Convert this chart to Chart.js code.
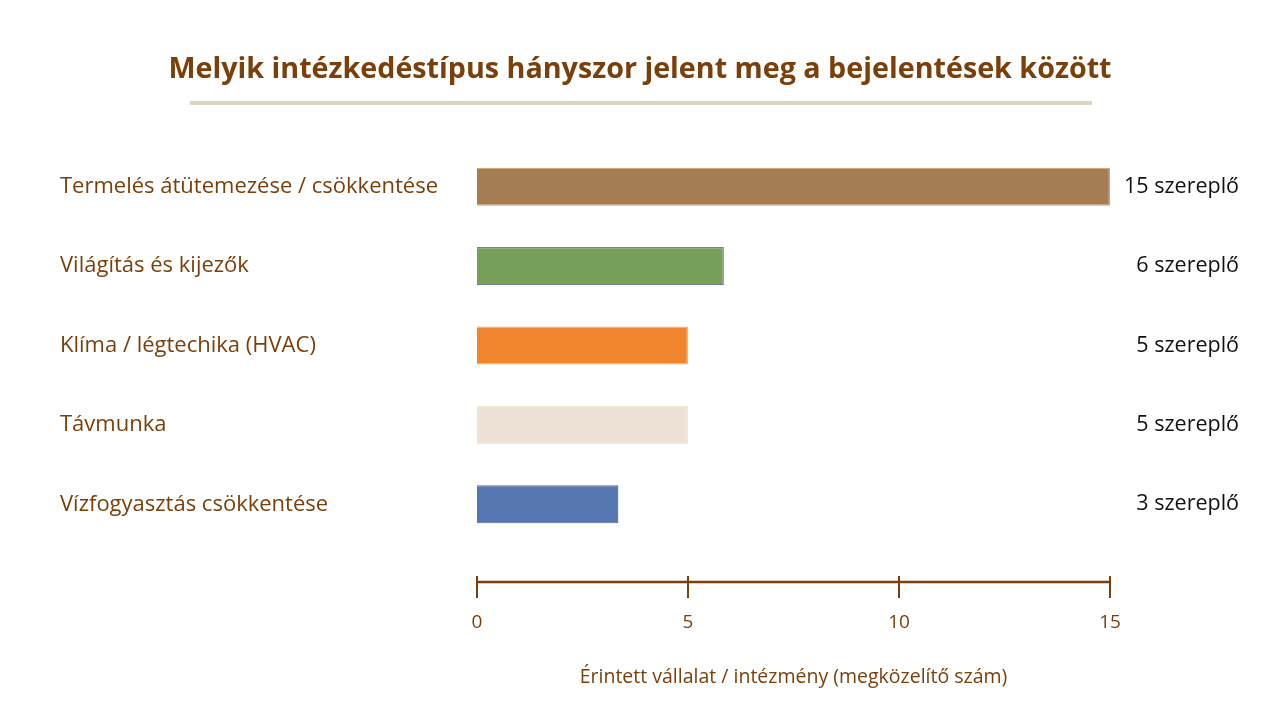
<!DOCTYPE html>
<html>
<head>
<meta charset="utf-8">
<script src="https://cdn.jsdelivr.net/npm/chart.js@4.4.1/dist/chart.umd.min.js"></script>
<style>
  html, body { margin: 0; padding: 0; background: #fff; }
  #wrap { width: 1280px; height: 720px; }
</style>
</head>
<body>
<div id="wrap"><canvas id="chart"></canvas></div>
<script>
const categories = [
  'Termelés átütemezése / csökkentése',
  'Világítás és kijezők',
  'Klíma / légtechika (HVAC)',
  'Távmunka',
  'Vízfogyasztás csökkentése'
];
const values = [15, 5.85, 5, 5, 3.35];
const valueLabels = ['15 szereplő', '6 szereplő', '5 szereplő', '5 szereplő', '3 szereplő'];
const xTicks = [0, 5, 10, 15];
const chartTitle = 'Melyik intézkedéstípus hányszor jelent meg a bejelentések között';

const barColors = ['#a67c52', '#76a05a', '#f0852d', '#ede0d4', '#5576b0'];
const barBorders = ['#c8a27c', '#6f8196', '#f6b27c', '#f1e6dc', '#4b6aa5'];
const brown = '#7b3f0a';
const font = 'Open Sans';

// title + underline, bottom axis with ticks, value labels on the right
const extras = {
  id: 'extras',
  afterDraw(chart) {
    const ctx = chart.ctx;
    const x = chart.scales.x;
    const y = chart.scales.y;
    ctx.save();

    ctx.fillStyle = brown;
    ctx.font = 'bold 28.7px "' + font + '"';
    ctx.textAlign = 'center';
    ctx.textBaseline = 'middle';
    ctx.fillText(chartTitle, 640, 70);

    ctx.fillStyle = '#e0d3c3';
    ctx.fillRect(190, 101, 902, 4);

    const axisY = chart.chartArea.bottom + 38;
    ctx.strokeStyle = brown;
    ctx.lineWidth = 2.5;
    ctx.beginPath();
    ctx.moveTo(x.getPixelForValue(0), axisY);
    ctx.lineTo(x.getPixelForValue(15), axisY);
    ctx.stroke();
    ctx.lineWidth = 2;
    xTicks.forEach(v => {
      const px = x.getPixelForValue(v);
      ctx.beginPath();
      ctx.moveTo(px, axisY - 6);
      ctx.lineTo(px, axisY + 16);
      ctx.stroke();
    });

    ctx.fillStyle = '#111';
    ctx.font = '21.5px "' + font + '"';
    ctx.textAlign = 'right';
    valueLabels.forEach((t, i) => {
      ctx.fillText(t, 1239, y.getPixelForValue(i));
    });
    ctx.restore();
  }
};

new Chart(document.getElementById('chart'), {
  type: 'bar',
  data: {
    labels: categories,
    datasets: [{
      data: values,
      backgroundColor: barColors,
      borderColor: barBorders,
      borderWidth: 1.2,
      barPercentage: 0.48,
      categoryPercentage: 1.0
    }]
  },
  plugins: [extras],
  options: {
    indexAxis: 'y',
    responsive: true,
    maintainAspectRatio: false,
    animation: false,
    layout: { padding: { left: 60, right: 170, top: 147, bottom: 0 } },
    plugins: {
      legend: { display: false },
      tooltip: { enabled: false },
      title: { display: false }
    },
    scales: {
      x: {
        min: 0,
        max: 15,
        afterBuildTicks(scale) {
          scale.ticks = xTicks.map(v => ({ value: v }));
        },
        afterFit(scale) { scale.height = 176; },
        grid: { display: false, drawTicks: false },
        border: { display: false },
        ticks: {
          color: brown,
          padding: 67,
          font: { family: font, size: 19 }
        },
        title: {
          display: true,
          text: 'Érintett vállalat / intézmény (megközelítő szám)',
          color: brown,
          font: { family: font, size: 19.5 },
          padding: { top: 0, bottom: 31 }
        }
      },
      y: {
        afterFit(scale) { scale.width = 417; },
        grid: { display: false, drawTicks: false },
        border: { display: false },
        ticks: {
          color: brown,
          crossAlign: 'far',
          font: { family: font, size: 22 }
        }
      }
    }
  }
});
</script>
</body>
</html>
